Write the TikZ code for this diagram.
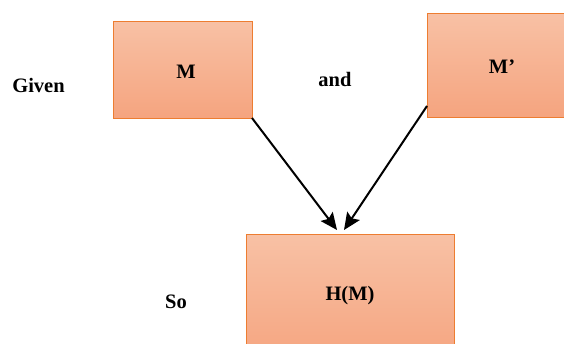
\documentclass[tikz,border=0pt]{standalone}
\usepackage{fontspec}
\setmainfont{Liberation Serif}
\usetikzlibrary{arrows.meta}
\definecolor{boxtop}{HTML}{F8C1A5}
\definecolor{boxbot}{HTML}{F5A47F}
\definecolor{boxline}{HTML}{ED7D31}
\tikzset{
  mbox/.style={draw=boxline, line width=1pt, top color=boxtop, bottom color=boxbot, inner sep=0pt, outer sep=0pt},
  lbl/.style={font=\fontsize{20.5}{24}\selectfont\bfseries, anchor=base, inner sep=0pt},
  arr/.style={line width=2pt, -{Stealth[length=17pt,width=15pt,inset=3pt]}}
}
\begin{document}
\begin{tikzpicture}[x=1pt,y=-1pt]
\useasboundingbox (0,0) rectangle (564,343);
\clip (0,0) rectangle (564,343);
\node[mbox, minimum width=139pt, minimum height=97pt] (m) at (182.5,69.5) {};
\node[mbox, minimum width=150pt, minimum height=104pt] (m2) at (502,65) {};
\node[mbox, minimum width=208pt, minimum height=130pt] (h) at (350,299) {};
\node[lbl] (tgiven) at (38.5,92) {Given};
\node[lbl] (tm) at (186,78) {M};
\node[lbl] (tand) at (335,86) {and};
\node[lbl] (tm2) at (502,73) {M’};
\node[lbl] (tso) at (176,308) {So};
\node[lbl] (th) at (350,300) {H(M)};
\draw[arr] (m.south east) -- ([shift={(-13,-4)}]h.north);
\draw[arr] ([yshift=11pt]m2.south west) -- ([shift={(-6,-4)}]h.north);
\end{tikzpicture}
\end{document}
